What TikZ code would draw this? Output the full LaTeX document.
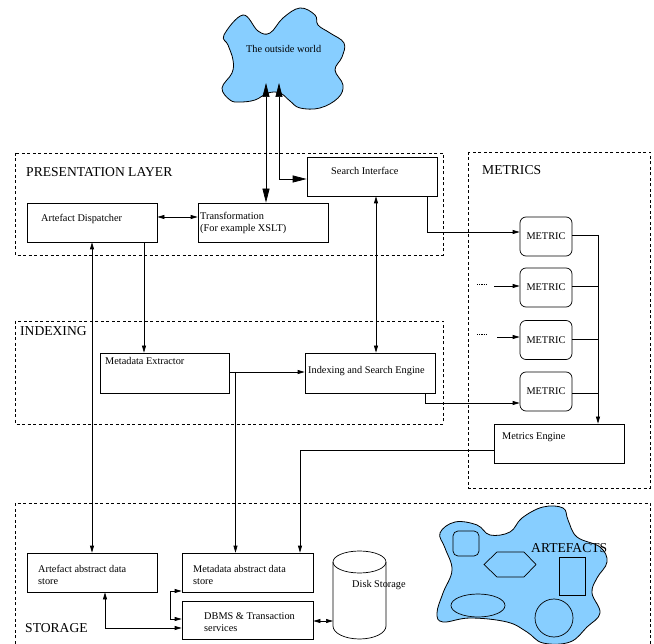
\documentclass[tikz,border=0pt]{standalone}
\usepackage{fontspec}
\setmainfont{Liberation Serif}
\usetikzlibrary{arrows.meta}
\definecolor{cloudblue}{RGB}{135,206,255}
\tikzset{
  ln/.style={line width=0.7pt, draw=black},
  box/.style={ln, rectangle, inner sep=0pt},
  mbox/.style={ln, rectangle, rounded corners=6pt, inner sep=0pt, minimum width=52pt, minimum height=39pt, font=\fontsize{10.3}{12}\selectfont},
  lbl/.style={inner sep=0pt, anchor=base west, font=\fontsize{10.3}{12}\selectfont},
  biglbl/.style={inner sep=0pt, anchor=base west, font=\fontsize{13.6}{16}\selectfont},
  dashedbox/.style={line width=0.7pt, dash pattern=on 3pt off 2.5pt},
  ar/.style={ln, -{Triangle[length=7pt,width=4pt]}},
  dbl/.style={ln, {Triangle[length=7pt,width=4pt]}-{Triangle[length=7pt,width=4pt]}},
  bigdbl/.style={ln, {Triangle[length=14pt,width=7pt]}-{Triangle[length=14pt,width=7pt]}},
  cloud/.style={line width=0.8pt, draw=black, fill=cloudblue},
  stubline/.style={line width=0.5pt, dash pattern=on 1.2pt off 1pt},
}
\begin{document}
\begin{tikzpicture}[x=1pt,y=-1pt]
\useasboundingbox (0,0) rectangle (654,644);
\clip (0,0) rectangle (654,644);

% ---- dashed layer boxes
\draw[dashedbox] (15,153) rectangle (443,255);
\draw[dashedbox] (15,321) rectangle (443,424);
\draw[dashedbox] (468,152) rectangle (650,488);
\draw[dashedbox] (15,660) -- (15,503) -- (650,503) -- (650,660);

\node[biglbl] (tpres) at (26,177) {PRESENTATION LAYER};
\node[biglbl] (tidx) at (20,336) {INDEXING};
\node[biglbl] (tmet) at (482,175) {METRICS};
\node[biglbl] (tsto) at (25,632) {STORAGE};

% ---- outside world cloud
\draw[cloud] plot[smooth cycle, tension=0.65] coordinates {
 (224,35) (243,15) (258,31) (270,33) (283,18) (300,8) (315,15) (318,25)
 (330,33) (344,43) (342,57) (335,70) (343,85) (338,98) (320,108) (300,108)
 (290,101) (280,93) (268,93) (255,100) (240,102) (230,100) (222,88) (232,73)
 (233,60) (228,45)};
\node[lbl] (tworld) at (246,53) {The outside world};
\coordinate (w1) at (266,83);
\coordinate (w2) at (279,83);

% ---- presentation layer
\node[box, minimum width=130pt, minimum height=39pt] (ad) at (92,222.5) {};
\node[lbl] (tad) at (41,222) {Artefact Dispatcher};
\node[box, minimum width=130pt, minimum height=39pt] (tr) at (263,222.5) {};
\node[lbl] (ttr1) at (200,220) {Transformation};
\node[lbl] (ttr2) at (200,232) {(For example XSLT)};
\node[box, minimum width=130pt, minimum height=39pt] (si) at (372,176.5) {};
\node[lbl] (tsi) at (331,175) {Search Interface};

% ---- indexing
\node[box, minimum width=129pt, minimum height=40pt] (me) at (164.5,373) {};
\node[lbl] (tme) at (105,365) {Metadata Extractor};
\node[box, minimum width=130pt, minimum height=40pt] (ise) at (370,373) {};
\node[lbl] (tise) at (308,374) {Indexing and Search Engine};

% ---- metrics
\node[mbox] (m1) at (546,236.5) {METRIC};
\node[mbox] (m2) at (546,287.5) {METRIC};
\node[mbox] (m3) at (546,340) {METRIC};
\node[mbox] (m4) at (546,391.5) {METRIC};
\node[box, minimum width=130pt, minimum height=39pt] (meng) at (559,443.5) {};
\node[lbl] (tmeng) at (502,440) {Metrics Engine};

% ---- storage
\node[box, minimum width=130pt, minimum height=39pt] (as) at (92,572.5) {};
\node[lbl] (tas1) at (38,572) {Artefact abstract data};
\node[lbl] (tas2) at (38,584) {store};
\node[box, minimum width=131pt, minimum height=39pt] (ms) at (247.5,572.5) {};
\node[lbl] (tms1) at (193,572) {Metadata abstract data};
\node[lbl] (tms2) at (193,584) {store};
\node[box, minimum width=131pt, minimum height=38pt] (db) at (247.5,620) {};
\node[lbl] (tdb1) at (204,619) {DBMS \& Transaction};
\node[lbl] (tdb2) at (204,631) {services};

% disk storage cylinder
\draw[ln] (359.5,562) ellipse [x radius=26.5pt, y radius=11pt];
\draw[ln] (333,562) -- (333,626) arc[start angle=180, end angle=360, x radius=26.5pt, y radius=13pt] -- (386,562);
\coordinate (diskW) at (333,621);
\node[lbl] (tdisk) at (352,587) {Disk Storage};

% artefacts cloud
\draw[cloud] plot[smooth cycle, tension=0.65] coordinates {
 (440,533) (455,522) (477,525) (490,535) (510,532) (522,518) (543,507) (563,508)
 (568,520) (577,537) (600,547) (607,562) (597,578) (592,593) (600,613) (587,627)
 (570,642) (543,643) (527,632) (507,622) (470,618) (443,622) (437,613) (443,593)
 (452,570) (445,548)};
\draw[ln, rounded corners=5pt] (453,531) rectangle (479,556);
\draw[ln] (484,564.5) -- (497,552) -- (524,552) -- (536,564.5) -- (524,577) -- (497,577) -- cycle;
\draw[ln] (559,557) rectangle (585,595);
\draw[ln] (478,605.5) ellipse [x radius=27pt, y radius=11.5pt];
\draw[ln] (554,618) circle [radius=19pt];
\node[biglbl] (tart) at (531,552) {ARTEFACTS};

% ---- connectors
\draw[bigdbl] (w1) -- (tr.north -| w1);
\draw[bigdbl] (w2) |- (si.west |- 0,179);
\draw[dbl] (ad.east |- 0,217) -- (tr.west |- 0,217);
\draw[dbl] (si.south -| 376,0) -- (ise.north -| 376,0);
\draw[dbl] (ad.south) -- (as.north);
\draw[ar] (ad.south -| 144,0) -- (me.north -| 144,0);
\draw[ar] (me.east |- 0,372) -- (ise.west |- 0,372);
\coordinate (mj) at (235.5,372);
\draw[ar] (mj) -- (ms.north -| mj);
\draw[ar] (si.south -| 427,0) |- (m1.west |- 0,232);
\draw[ar] (ise.south -| 425,0) |- (m4.west |- 0,403);
\coordinate (s2) at (494,286);
\coordinate (s3) at (497,337);
\draw[ar] (s2) -- (m2.west |- s2);
\draw[ar] (s3) -- (m3.west |- s3);
\draw[stubline] (477,284) -- (486,284);
\draw[stubline] (477,334) -- (486,334);
\coordinate (bus) at (598,235);
\draw[ln] (m1.east |- bus) -- (bus);
\draw[ln] (m2.east |- 0,286) -- (598,286);
\draw[ln] (m3.east |- 0,339) -- (598,339);
\draw[ln] (m4.east |- 0,393) -- (598,393);
\draw[ar] (bus) -- (meng.north -| bus);
\draw[ar] (meng.west |- 0,450) -| (ms.north -| 300,0);
\draw[dbl] (as.south -| 105,0) |- (db.west |- 0,628);
\coordinate (k1) at (170,591);
\coordinate (k2) at (170,619);
\draw[dbl] (ms.west |- k1) -- (k1) -- (k2) -- (db.west |- k2);
\draw[dbl] (db.east |- diskW) -- (diskW);
\end{tikzpicture}
\end{document}
